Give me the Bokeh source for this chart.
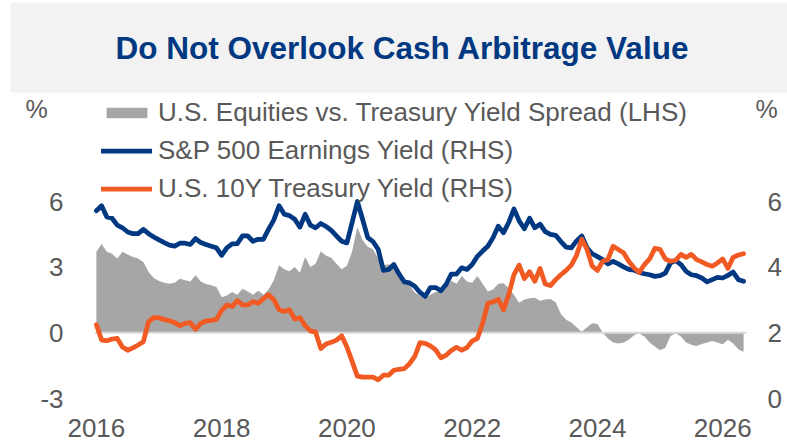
import pandas as pd
from bokeh.plotting import figure
from bokeh.models import (Range1d, LinearAxis, FixedTicker, Legend, LegendItem,
                          Label, BoxAnnotation, ColumnDataSource)
from bokeh.embed import file_html
from bokeh.resources import INLINE

TITLE = "Do Not Overlook Cash Arbitrage Value"
SERIES_NAMES = ["U.S. Equities vs. Treasury Yield Spread (LHS)",
                "S&P 500 Earnings Yield (RHS)",
                "U.S. 10Y Treasury Yield (RHS)"]
UNIT_LABEL = "%"

months = pd.date_range("2016-01-01", periods=125, freq="MS")

spread_lhs = [
    3.70, 4.06, 3.70, 3.61, 3.40, 3.70, 3.58, 3.47, 3.40, 3.24, 2.78, 2.50,
    2.37, 2.29, 2.24, 2.29, 2.47, 2.40, 2.35, 2.63, 2.35, 2.23, 2.17, 2.09,
    1.63, 1.71, 1.86, 1.74, 2.01, 1.89, 1.74, 1.92, 1.74, 1.98, 2.40, 3.09,
    2.90, 2.81, 3.01, 2.75, 3.47, 3.01, 3.16, 3.73, 3.52, 3.43, 3.16, 2.90,
    3.06, 3.73, 4.82, 4.24, 3.93, 3.82, 3.40, 3.09, 3.13, 2.96, 2.63, 2.35,
    2.17, 1.84, 1.69, 1.58, 1.74, 1.86, 1.86, 2.06, 2.38, 2.24, 2.60, 2.35,
    2.29, 2.60, 2.24, 1.89, 1.98, 2.24, 2.26, 2.04, 1.74, 1.37, 1.52, 1.58,
    1.60, 1.47, 1.52, 1.55, 1.40, 0.86, 0.60, 0.47, 0.25, 0.05, 0.25, 0.44,
    0.40, 0.01, -0.26, -0.44, -0.49, -0.44, -0.32, -0.11, -0.02, -0.17, -0.44, -0.63,
    -0.80, -0.68, -0.14, -0.02, -0.17, -0.44, -0.54, -0.60, -0.51, -0.44, -0.37, -0.44,
    -0.52, -0.32, -0.49, -0.75, -0.86,
]

sp500_earnings_yield_rhs = [
    5.72, 5.87, 5.53, 5.49, 5.28, 5.20, 5.07, 5.02, 5.02, 5.15, 5.02, 4.92,
    4.83, 4.75, 4.67, 4.64, 4.73, 4.73, 4.69, 4.87, 4.75, 4.69, 4.64, 4.59,
    4.36, 4.59, 4.71, 4.72, 4.95, 4.95, 4.79, 4.85, 4.85, 5.16, 5.44, 5.87,
    5.61, 5.57, 5.46, 5.22, 5.61, 5.28, 5.20, 5.33, 5.24, 5.12, 4.95, 4.79,
    4.74, 5.36, 6.00, 5.46, 4.90, 4.78, 4.54, 3.90, 3.93, 4.08, 3.79, 3.55,
    3.52, 3.42, 3.23, 3.11, 3.38, 3.38, 3.28, 3.47, 3.79, 3.79, 3.98, 3.93,
    4.08, 4.33, 4.49, 4.64, 4.90, 5.25, 5.05, 5.36, 5.77, 5.41, 5.17, 5.49,
    5.20, 5.31, 5.08, 5.00, 4.97, 4.78, 4.61, 4.59, 4.80, 4.95, 4.59, 4.41,
    4.32, 4.23, 4.10, 4.18, 4.10, 4.01, 3.93, 3.91, 3.84, 3.80, 3.77, 3.72,
    3.74, 3.82, 4.13, 4.20, 4.08, 3.87, 3.77, 3.74, 3.67, 3.55, 3.62, 3.69,
    3.67, 3.75, 3.85, 3.62, 3.57,
]

us10y_yield_rhs = [
    2.25, 1.78, 1.76, 1.81, 1.83, 1.57, 1.47, 1.54, 1.63, 1.73, 2.34, 2.46,
    2.46, 2.40, 2.37, 2.31, 2.22, 2.29, 2.31, 2.11, 2.29, 2.36, 2.38, 2.41,
    2.68, 2.85, 2.80, 2.98, 2.85, 2.85, 2.95, 2.90, 3.04, 3.16, 3.01, 2.70,
    2.65, 2.70, 2.42, 2.46, 2.22, 2.06, 2.02, 1.52, 1.66, 1.71, 1.78, 1.91,
    1.57, 1.13, 0.68, 0.65, 0.65, 0.65, 0.57, 0.71, 0.71, 0.86, 0.89, 0.91,
    1.06, 1.28, 1.70, 1.68, 1.60, 1.48, 1.24, 1.32, 1.46, 1.56, 1.47, 1.55,
    1.75, 1.83, 2.29, 2.90, 2.94, 3.02, 2.70, 3.16, 3.77, 4.06, 3.65, 3.86,
    3.57, 3.96, 3.49, 3.44, 3.62, 3.77, 3.90, 4.06, 4.36, 4.85, 4.54, 4.03,
    3.90, 4.18, 4.23, 4.64, 4.54, 4.44, 4.18, 3.98, 3.84, 4.08, 4.25, 4.57,
    4.54, 4.25, 4.18, 4.21, 4.39, 4.30, 4.39, 4.23, 4.16, 4.08, 4.03, 4.13,
    4.25, 3.96, 4.30, 4.37, 4.41,
]

x_ticks = [2016, 2018, 2020, 2022, 2024, 2026]
lhs_ticks = [-3, 0, 3, 6]
rhs_ticks = [0, 2, 4, 6]
zero_level = 0

# axis extents
x_start, x_end = 2015.97, 2026.38
lhs_min, lhs_max = -3, 6
rhs_min, rhs_max = 0, 6

# canvas / plot-area geometry (pixels)
W, H = 787, 443
PA_LEFT, PA_RIGHT, PA_TOP, PA_BOTTOM = 94, 746, 201, 398

BLUE = "#003882"
ORANGE = "#F15A22"
GRAY_AREA = "#A6A6A6"
ZERO_GRAY = "#D9D9D9"
TEXT_GRAY = "#595959"
BAND = "#F2F2F2"
FONT = "Liberation Sans"

# ranges extended so the whole canvas is the frame (nothing gets clipped)
kx = (PA_RIGHT - PA_LEFT) / (x_end - x_start)
kl = (PA_BOTTOM - PA_TOP) / (lhs_max - lhs_min)
kr = (PA_BOTTOM - PA_TOP) / (rhs_max - rhs_min)
x_range = Range1d(x_start - PA_LEFT / kx, x_end + (W - PA_RIGHT) / kx)
y_range = Range1d(lhs_min - (H - PA_BOTTOM) / kl, lhs_max + PA_TOP / kl)
rhs_range = Range1d(rhs_min - (H - PA_BOTTOM) / kr, rhs_max + PA_TOP / kr)

xs = list(months.year + (months.month - 1) / 12.0)
src = ColumnDataSource(dict(x=xs, base=[0.0] * len(xs), spread=spread_lhs,
                            ey=sp500_earnings_yield_rhs, ty=us10y_yield_rhs))

p = figure(width=W, height=H, output_backend="svg", toolbar_location=None,
           x_range=x_range, y_range=y_range, x_axis_type=None, y_axis_type=None,
           min_border=0, min_border_left=0, min_border_right=0,
           min_border_top=0, min_border_bottom=0, title=None)
p.extra_y_ranges = {"rhs": rhs_range}
p.outline_line_color = None
p.grid.visible = False
p.background_fill_color = "white"
p.border_fill_color = "white"

# title band + title
p.add_layout(BoxAnnotation(left=10, right=W, top=H - 2, bottom=H - 92,
                           left_units="screen", right_units="screen",
                           top_units="screen", bottom_units="screen",
                           fill_color=BAND, fill_alpha=1.0, line_alpha=0,
                           level="underlay"))
p.add_layout(Label(x=402, y=H - 47, x_units="screen", y_units="screen", text=TITLE,
                   text_align="center", text_baseline="alphabetic", text_font=FONT,
                   text_font_style="bold", text_font_size="31.5px", text_color=BLUE))
for lx in (25, 755):
    p.add_layout(Label(x=lx, y=H - 108, x_units="screen", y_units="screen",
                       text=UNIT_LABEL, text_align="left", text_baseline="alphabetic",
                       text_font=FONT, text_font_size="25px", text_color=TEXT_GRAY))

# data
area = p.varea(x="x", y1="base", y2="spread", source=src, fill_color=GRAY_AREA)
p.segment(x0=[x_start], y0=[zero_level], x1=[x_end], y1=[zero_level],
          line_color=ZERO_GRAY, line_width=2)
ey = p.line("x", "ey", source=src, y_range_name="rhs", line_color=BLUE,
            line_width=4.75, line_join="round", line_cap="round")
ty = p.line("x", "ty", source=src, y_range_name="rhs", line_color=ORANGE,
            line_width=4.75, line_join="round", line_cap="round")

# axes pinned to the plot-area edges
xa = LinearAxis(ticker=FixedTicker(ticks=x_ticks), fixed_location=lhs_min)
ya = LinearAxis(ticker=FixedTicker(ticks=lhs_ticks), fixed_location=x_start)
ya.major_label_overrides = {-3: "-3"}
ra = LinearAxis(y_range_name="rhs", ticker=FixedTicker(ticks=rhs_ticks),
                fixed_location=x_end)
p.add_layout(xa, "below")
p.add_layout(ya, "left")
p.add_layout(ra, "right")
for ax in (xa, ya, ra):
    ax.axis_line_color = None
    ax.major_tick_line_color = None
    ax.minor_tick_line_color = None
    ax.major_tick_out = 0
    ax.major_tick_in = 0
    ax.minor_tick_out = 0
    ax.minor_tick_in = 0
    ax.major_label_text_font = FONT
    ax.major_label_text_font_size = "26px"
    ax.major_label_text_color = TEXT_GRAY
xa.major_label_standoff = 20
ya.major_label_standoff = 31
ra.major_label_standoff = 21

legend = Legend(items=[LegendItem(label=SERIES_NAMES[0], renderers=[area]),
                       LegendItem(label=SERIES_NAMES[1], renderers=[ey]),
                       LegendItem(label=SERIES_NAMES[2], renderers=[ty])],
                location=(101, H - 203.5), orientation="vertical",
                glyph_width=51, glyph_height=13, label_standoff=6,
                label_height=30, spacing=7, padding=0, margin=0,
                label_text_font=FONT, label_text_font_size="26px",
                label_text_color=TEXT_GRAY, background_fill_alpha=0,
                border_line_color=None)
p.add_layout(legend, "center")

open("out.html", "w").write(file_html(p, INLINE))
